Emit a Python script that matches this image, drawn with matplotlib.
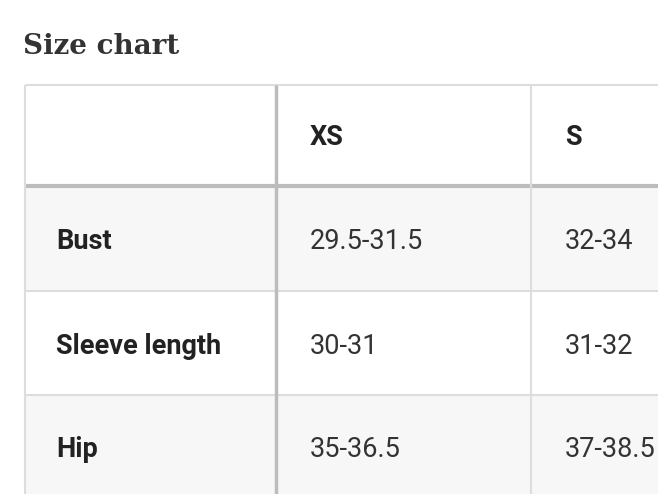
import matplotlib
matplotlib.use("Agg")
import matplotlib.pyplot as plt
from matplotlib.patches import Rectangle

sizes = ["XS", "S"]
measures = ["Bust", "Sleeve length", "Hip"]
values = [["29.5-31.5", "32-34"],
          ["30-31", "31-32"],
          ["35-36.5", "37-38.5"]]

# layout in pixels
col_x = [25, 276, 531, 700]
row_y = [85, 186, 291, 395, 500]
row_bg = ["white", "#f7f7f7", "white", "#f7f7f7"]
THIN = "#dddddd"
THICK = "#bcbcbc"

fig = plt.figure(figsize=(6.58, 4.94), dpi=100, facecolor="white")
ax = fig.add_axes([0, 0, 1, 1])
ax.set_xlim(0, 658)
ax.set_ylim(494, 0)
ax.axis("off")

ax.text(23, 46, "Size chart", fontsize=20, family="DejaVu Serif",
        fontweight="bold", color="#333333", va="center", ha="left")

for r in range(len(row_y) - 1):
    ax.add_patch(Rectangle((col_x[0], row_y[r]), col_x[-1] - col_x[0],
                           row_y[r + 1] - row_y[r], facecolor=row_bg[r],
                           edgecolor="none"))

# grid lines
for i, y in enumerate(row_y[:-1]):
    ax.plot([col_x[0], col_x[-1]], [y, y], color=THICK if i == 1 else THIN,
            lw=3 if i == 1 else 1.5, solid_capstyle="butt")
for j, x in enumerate(col_x[:-1]):
    ax.plot([x, x], [row_y[0], row_y[-1]], color=THICK if j == 1 else THIN,
            lw=2.5 if j == 1 else 1.5, solid_capstyle="butt")

fs = 19.5
pad = 31
mid = [(row_y[r] + row_y[r + 1]) / 2 + 3 for r in range(len(row_y) - 1)]
mid[-1] = 449
for j, s in enumerate(sizes):
    ax.text(col_x[j + 1] + pad + 3, mid[0] - 1, s, fontsize=fs, family="Roboto",
            fontweight="bold", color="#222222", va="center")
for i, m in enumerate(measures):
    ax.text(col_x[0] + pad, mid[i + 1], m, fontsize=fs, family="Roboto",
            fontweight="bold", color="#222222", va="center")
    for j, v in enumerate(values[i]):
        ax.text(col_x[j + 1] + pad + 3, mid[i + 1], v, fontsize=fs,
                family="Roboto", color="#333333", va="center")

fig.savefig("out.png", dpi=100, facecolor="white")
